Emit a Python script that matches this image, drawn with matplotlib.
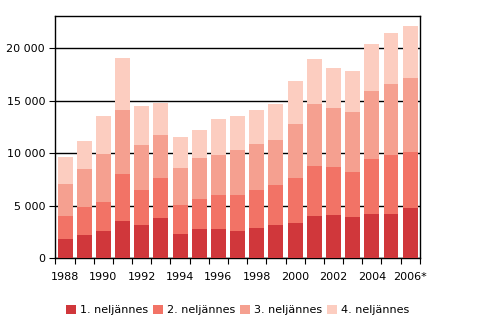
import numpy as np
import matplotlib.pyplot as plt
from matplotlib.ticker import FuncFormatter

years = list(range(1988, 2007))
year_labels = [str(y) if (y - 1988) % 2 == 0 else "" for y in years]
year_labels[-1] = "2006*"

# neljännesten arvot luettu kuvasta
q1 = [1810, 2190, 2580, 3530, 3150, 3820, 2290, 2770, 2770, 2580,
      2860, 3150, 3340, 4010, 4100, 3910, 4200, 4200, 4770]
q2 = [2200, 2680, 2760, 4480, 3340, 3810, 2770, 2860, 3240, 3430,
      3630, 3810, 4290, 4770, 4580, 4290, 5250, 5630, 5340]
q3 = [3050, 3630, 4580, 6100, 4290, 4100, 3530, 3910, 3820, 4290,
      4390, 4290, 5150, 5910, 5630, 5720, 6490, 6770, 7060]
q4 = [2580, 2670, 3620, 4960, 3720, 3050, 2960, 2670, 3440, 3240,
      3240, 3440, 4100, 4290, 3820, 3910, 4480, 4870, 4960]

series = [q1, q2, q3, q4]
names = ["1. neljännes", "2. neljännes", "3. neljännes", "4. neljännes"]
colors = ["#D0373B", "#F27366", "#F5A090", "#FCCDC0"]

plt.rcParams["font.family"] = ["DejaVu Sans"]
fig = plt.figure(figsize=(4.95, 3.27), dpi=100)
ax = fig.add_axes([0.112, 0.211, 0.736, 0.740])

x = np.arange(len(years))
bottom = np.zeros(len(years))
for vals, name, col in zip(series, names, colors):
    ax.bar(x, vals, 0.78, bottom=bottom, color=col, label=name, zorder=3)
    bottom += np.array(vals)

ax.set_ylim(0, 23100)
ax.set_xlim(-0.47, len(years) - 0.55)
ax.set_yticks(range(0, 20001, 5000))
ax.yaxis.set_major_formatter(FuncFormatter(lambda v, p: f"{int(v):,}".replace(",", " ")))
ax.grid(axis="y", color="black", linewidth=1, zorder=0)

# tikit palkkien väleissä, tekstit palkkien kohdalla
ax.set_xticks(np.arange(-0.5, len(years), 1))
ax.set_xticklabels([])
ax.set_xticks(x, minor=True)
ax.set_xticklabels(year_labels, minor=True)
ax.tick_params(axis="x", which="major", length=4, direction="out")
ax.tick_params(axis="x", which="minor", length=0, pad=10, labelsize=8)
ax.tick_params(axis="y", length=4, labelsize=8)

for s in ax.spines.values():
    s.set_color("black")
    s.set_linewidth(1)

fig.legend(loc="lower center", ncol=4, frameon=False, fontsize=8,
           bbox_to_anchor=(0.48, 0.005), handlelength=0.9, handleheight=0.9,
           handletextpad=0.3, columnspacing=0.5)

fig.savefig("out.png", dpi=100)
